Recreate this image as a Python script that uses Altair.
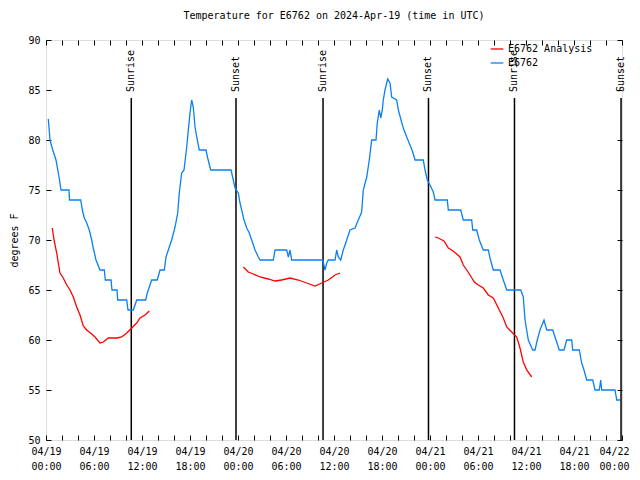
import altair as alt
import pandas as pd

TITLE = "Temperature for E6762 on 2024-Apr-19 (time in UTC)"
BASE = pd.Timestamp("2024-04-19T00:00:00Z")
FONT = "DejaVu Sans Mono"

series_names = ["E6762 Analysis", "E6762"]
series_colors = ["#ff0000", "#0a80f5"]

# observed station temperature (hours after 2024-04-19 00:00 UTC, deg F)
blue_hours = [0.29, 0.5, 0.84, 1.25, 1.63, 1.88, 2.88, 2.94, 4.34, 4.54,
              4.79, 5.09, 5.41, 5.71, 5.91, 6.25, 6.75, 7.29, 7.41, 8.13,
              8.25, 8.88, 8.96, 10.09, 10.25, 10.91, 11.34, 12.46, 12.66, 13.21,
              13.91, 14.25, 14.79, 15.0, 15.29, 15.71, 16.13, 16.46, 16.66, 16.96,
              17.25, 17.59, 17.79, 18.0, 18.21, 18.41, 18.63, 18.84, 19.16, 20.0,
              20.21, 20.59, 23.13, 23.41, 23.63, 24.04, 24.25, 24.46, 24.75, 25.09,
              25.41, 25.71, 26.13, 26.54, 26.75, 28.41, 28.63, 30.09, 30.29, 30.5,
              30.71, 34.59, 34.88, 35.09, 35.29, 36.13, 36.34, 36.54, 36.84, 37.16,
              37.59, 38.0, 38.63, 39.04, 39.46, 39.66, 40.09, 40.41, 40.71, 41.25,
              41.41, 41.66, 41.84, 42.04, 42.16, 42.38, 42.71, 43.0, 43.21, 43.84,
              44.04, 44.38, 44.66, 45.09, 45.5, 45.84, 46.13, 47.16, 47.38, 47.66,
              48.0, 48.41, 48.63, 50.16, 50.29, 51.84, 52.16, 53.21, 53.34, 53.84,
              54.16, 54.66, 55.29, 55.5, 55.91, 56.75, 57.16, 57.59, 59.34, 59.66,
              59.88, 60.29, 60.84, 61.13, 61.41, 61.75, 62.25, 62.59, 63.34, 63.75,
              64.16, 64.75, 65.09, 65.71, 65.84, 66.66, 66.96, 67.25, 67.59, 68.34,
              68.63, 69.16, 69.34, 69.46, 71.13, 71.34, 71.75]
blue_temp = [82.1, 80, 79, 78, 76.3, 75, 75, 74, 74, 73,
             72.2, 71.7, 71, 70, 69.2, 68, 67, 67, 66, 66,
             65, 65, 64, 64, 63, 63, 64, 64, 64.7, 66,
             66, 67, 67, 68.3, 69, 70, 71.3, 72.7, 74.7, 76.7,
             77, 79.3, 81, 82.7, 84, 83.3, 81.3, 80.3, 79, 79,
             78.2, 77, 77, 76, 75.2, 74.7, 73.7, 73, 72, 71.2,
             70.7, 70, 69, 68.3, 68, 68, 69, 69, 68.3, 69,
             68, 68, 67, 67.7, 68, 68, 69, 68.3, 68, 69,
             70, 71, 71.2, 72, 72.8, 75, 76.3, 78, 80, 80,
             81.7, 83, 82.2, 83, 84, 85, 86.1, 85.7, 84.3, 84,
             83, 82, 81.2, 80.3, 79.5, 78.8, 78, 78, 77, 76,
             75.5, 74.8, 74, 74, 73, 73, 72, 72, 71, 71,
             70, 69, 69, 68.2, 67, 67, 66, 65, 65, 64.3,
             62, 60, 59, 59, 60, 61, 62, 61, 61, 60,
             59, 59, 60, 60, 59, 59, 57.7, 57, 56, 56,
             55, 55, 56, 55, 55, 54, 54]

# analysis (three separate runs)
red1_hours = [0.79, 1.0, 1.34, 1.54, 1.75, 2.16, 2.59, 3.0, 3.41, 3.84, 4.25, 4.66, 5.09,
              5.71, 6.13, 6.75, 7.16, 7.79, 8.91, 9.46, 10.09, 10.71, 11.34, 11.75, 12.38, 12.91]
red1_temp = [71.2, 70, 68.7, 67.7, 66.7, 66.2, 65.5, 65, 64.3, 63.3, 62.5, 61.4, 61,
             60.6, 60.3, 59.7, 59.8, 60.2, 60.2, 60.3, 60.7, 61.2, 61.7, 62.2, 62.5, 62.9]
red2_hours = [24.66, 25.29, 25.91, 26.75, 27.79, 28.63, 29.46, 30.5, 31.54, 32.59,
              33.63, 34.46, 35.29, 36.13, 36.75]
red2_temp = [67.3, 66.8, 66.6, 66.3, 66.1, 65.9, 66, 66.2, 66, 65.7,
             65.4, 65.7, 66, 66.5, 66.7]
red3_hours = [48.63, 49.04, 49.75, 50.29, 50.71, 51.34, 51.75, 52.16, 52.59, 53.0,
              53.54, 54.04, 54.66, 55.29, 55.91, 56.54, 57.16, 57.59, 58.21, 58.84,
              59.25, 59.66, 60.09, 60.71]
red3_temp = [70.3, 70.2, 69.9, 69.2, 69, 68.6, 68.3, 67.5, 67, 66.5,
             65.8, 65.5, 65.2, 64.5, 64.2, 63.2, 62.2, 61.3, 60.8, 60.3,
             59.2, 57.8, 57, 56.3]

sun_hours = [10.66, 23.75, 34.63, 47.81, 58.56, 71.88]
sun_labels = ["Sunrise", "Sunset", "Sunrise", "Sunset", "Sunrise", "Sunset"]

y_ticks = [50, 55, 60, 65, 70, 75, 80, 85, 90]
label_hours = list(range(0, 73, 6))
tick_hours = list(range(0, 73, 2))


def iso(h):
    return (BASE + pd.to_timedelta(h, unit="h")).strftime("%Y-%m-%dT%H:%M:%SZ")


def ms(h):
    return int((BASE + pd.to_timedelta(h, unit="h")).value // 10**6)


rows = []
for h, t in zip(blue_hours, blue_temp):
    rows.append({"time": iso(h), "temp": t, "series": "E6762", "seg": "b"})
for name, hs, ts in [("r1", red1_hours, red1_temp), ("r2", red2_hours, red2_temp),
                     ("r3", red3_hours, red3_temp)]:
    for h, t in zip(hs, ts):
        rows.append({"time": iso(h), "temp": t, "series": "E6762 Analysis", "seg": name})
lines_df = pd.DataFrame(rows)

sun_df = pd.DataFrame({
    "time": [iso(h) for h in sun_hours],
    "label": sun_labels,
    "top": [84.2] * len(sun_hours),
    "bottom": [50] * len(sun_hours),
    "ly": [84.8] * len(sun_hours),
})

W, H = 576, 400
xscale = alt.Scale(type="utc", domain=[ms(0), ms(72)], nice=False)
yscale = alt.Scale(domain=[50, 90], nice=False, zero=False)


def tick_axis_x(orient):
    return alt.Axis(orient=orient, offset=-H, values=[ms(h) for h in tick_hours],
                    labels=False, domain=False, grid=False, ticks=True, tickSize=5,
                    tickColor="black", tickWidth=1, title=None)


def tick_axis_y(orient):
    return alt.Axis(orient=orient, offset=-W, values=y_ticks, labels=False,
                    domain=False, grid=False, ticks=True, tickSize=5,
                    tickColor="black", tickWidth=1, title=None)


rules = alt.Chart(sun_df).mark_rule(color="black", strokeWidth=1.5).encode(
    x=alt.X("time:T", scale=xscale, axis=tick_axis_x("top")),
    y=alt.Y("top:Q", scale=yscale, axis=tick_axis_y("right")),
    y2="bottom:Q",
)

lines = alt.Chart(lines_df).mark_line(strokeWidth=1.3).encode(
    x=alt.X("time:T", scale=xscale, axis=alt.Axis(
        values=[ms(h) for h in label_hours],
        labelExpr="[utcFormat(datum.value, '%m/%d'), utcFormat(datum.value, '%H:%M')]",
        title=None, ticks=False, domain=False, grid=False, labelFont=FONT,
        labelFontSize=10, labelColor="black", labelPadding=6, labelAlign="center",
        labelOffset={"condition": {"test": "datum.value >= %d" % ms(72), "value": -8},
                     "value": 0},
        labelBaseline="top", labelLineHeight=15, labelFlush=False, labelOverlap=False)),
    y=alt.Y("temp:Q", scale=yscale, axis=alt.Axis(
        values=y_ticks, title="degrees F", ticks=False, domain=False, grid=False,
        labelFont=FONT, labelFontSize=10, labelColor="black", labelPadding=6,
        titleFont=FONT, titleFontSize=10, titleFontWeight="normal", titleColor="black",
        titlePadding=8)),
    color=alt.Color("series:N", scale=alt.Scale(domain=series_names, range=series_colors),
                    legend=alt.Legend(orient="none", legendX=444, legendY=2, title=None,
                                      symbolType="stroke",
                                      symbolStrokeWidth=1.3, symbolSize=160,
                                      labelFont=FONT, labelFontSize=10, labelColor="black",
                                      padding=0, rowPadding=2)),
    detail="seg:N",
    order=alt.Order("time:T"),
)

texts = alt.Chart(sun_df).mark_text(angle=270, align="left", baseline="middle",
                                    font=FONT, fontSize=10, color="black").encode(
    x=alt.X("time:T", scale=xscale, axis=tick_axis_x("bottom")),
    y=alt.Y("ly:Q", scale=yscale, axis=tick_axis_y("left")),
    text="label:N",
)

chart = alt.layer(rules, lines, texts).resolve_axis(
    x="independent", y="independent"
).properties(
    width=W, height=H,
    title=alt.TitleParams(TITLE, font=FONT, fontSize=10, fontWeight="normal",
                          color="black", anchor="middle", offset=14),
    autosize=alt.AutoSizeParams(type="none"),
    padding={"left": 38, "top": 32, "right": 10, "bottom": 32},
).configure_view(stroke="black", strokeWidth=1).configure(background="white")

chart.save("out.html", embed_options={"renderer": "svg", "actions": False})
